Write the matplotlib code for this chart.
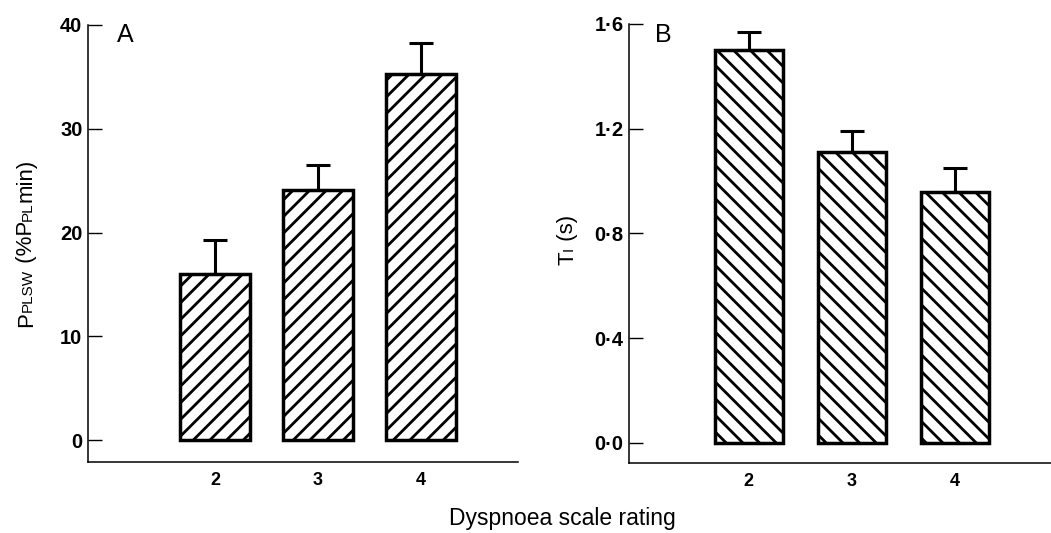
import matplotlib
matplotlib.use("Agg")
import matplotlib.pyplot as plt

plt.rcParams['font.family'] = ['Liberation Sans', 'DejaVu Sans']
plt.rcParams['hatch.linewidth'] = 2.0

# Dyspnoea scale rating categories
ratings = [2, 3, 4]

# Panel A: PPLSW (% PPLmin), mean and SE
pplsw = [16.0, 24.1, 35.3]
pplsw_se = [3.3, 2.4, 3.0]

# Panel B: Ti (s), mean and SE
ti = [1.50, 1.11, 0.96]
ti_se = [0.07, 0.08, 0.09]

a_ticks = [0, 10, 20, 30, 40]
a_ticklabels = ["0", "10", "20", "30", "40"]
b_ticks = [0.0, 0.4, 0.8, 1.2, 1.6]
b_ticklabels = ["0·0", "0·4", "0·8", "1·2", "1·6"]

W, H = 1051, 533
fig = plt.figure(figsize=(W / 100, H / 100), dpi=100)

axA = fig.add_axes([88 / W, 1 - 462 / H, 430 / W, (462 - 25) / H])
axB = fig.add_axes([629 / W, 1 - 463 / H, 422 / W, (463 - 24) / H])


def style_axis(ax, ticks, labels, ylim, xlim):
    ax.set_ylim(*ylim)
    ax.set_xlim(*xlim)
    for side in ("top", "right"):
        ax.spines[side].set_visible(False)
    for side in ("left", "bottom"):
        ax.spines[side].set_linewidth(1.1)
    ax.set_yticks(ticks)
    ax.set_yticklabels(labels)
    ax.set_xticks(ratings)
    ax.set_xticklabels([str(r) for r in ratings])
    ax.tick_params(axis="y", direction="in", length=10, width=1.0, pad=4,
                   labelsize=14.5)
    ax.tick_params(axis="x", length=0, pad=7, labelsize=13)
    for lab in ax.get_xticklabels() + ax.get_yticklabels():
        lab.set_fontweight("bold")


err_kw = dict(elinewidth=2.2, capsize=8.5, capthick=2.2, ecolor="black")

axA.bar(ratings, pplsw, width=0.68, color="white", edgecolor="black",
        linewidth=2.5, hatch="//", yerr=[[0] * 3, pplsw_se], error_kw=err_kw)
style_axis(axA, a_ticks, a_ticklabels, (-2.1, 40), (0.767, 4.942))

axB.bar(ratings, ti, width=0.66, color="white", edgecolor="black",
        linewidth=2.5, hatch="\\\\", yerr=[[0] * 3, ti_se], error_kw=err_kw)
style_axis(axB, b_ticks, b_ticklabels, (-0.077, 1.6), (0.835, 4.937))

fig.text(125 / W, 1 - 35 / H, "A", fontsize=18, ha="center", va="center")
fig.text(663 / W, 1 - 35 / H, "B", fontsize=18, ha="center", va="center")

fig.text(562 / W, 1 - 518 / H, "Dyspnoea scale rating", fontsize=16.5,
         ha="center", va="center")


def stacked_label(x_px, yc_px, pieces):
    # rotated label built from pieces of different sizes (small caps)
    renderer = fig.canvas.get_renderer()
    texts = []
    total = 0
    for s, size in pieces:
        t = fig.text(x_px / W, 0.5, s, fontsize=size, rotation=90,
                     rotation_mode="anchor", ha="left", va="baseline")
        h = t.get_window_extent(renderer).height
        texts.append((t, h))
        total += h
    y = H - yc_px - total / 2
    for t, h in texts:
        t.set_position((x_px / W, y / H))
        y += h


stacked_label(32, 243, [("P", 16), ("PLSW", 11), (" (%P", 16),
                        ("PL", 11), ("min)", 16)])
stacked_label(573, 240, [("T", 16), ("I", 11), (" (s)", 16)])

fig.savefig("out.png", dpi=100)
